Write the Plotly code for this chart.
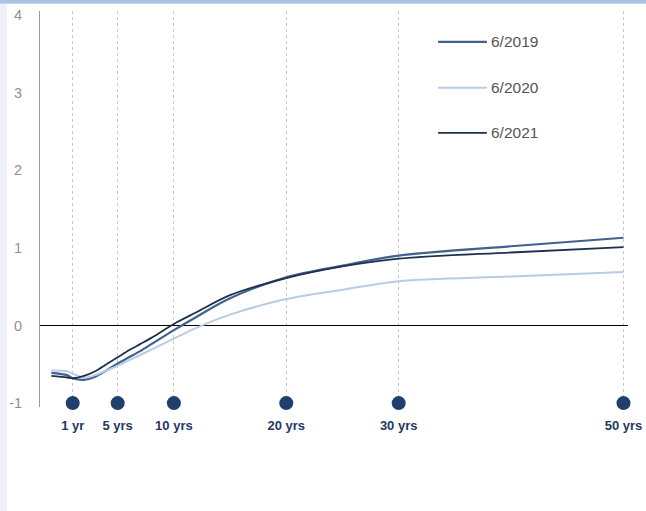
import plotly.graph_objects as go

# Maturity positions (years) along the curve
maturity = [-0.9, 0.5, 1, 2, 3, 4, 5, 6, 7, 8, 9, 10, 12, 15, 20, 25, 30, 40, 50]

# Yields (%) per curve date
y_2019 = [-0.61, -0.64, -0.68, -0.70, -0.66, -0.58, -0.49, -0.41, -0.33, -0.24, -0.15, -0.06,
          0.11, 0.35, 0.62, 0.77, 0.90, 1.02, 1.13]
y_2020 = [-0.58, -0.59, -0.62, -0.67, -0.64, -0.58, -0.52, -0.45, -0.38, -0.31, -0.24, -0.17,
          -0.03, 0.14, 0.34, 0.46, 0.57, 0.63, 0.69]
y_2021 = [-0.65, -0.67, -0.68, -0.65, -0.59, -0.50, -0.41, -0.32, -0.24, -0.16, -0.07, 0.02,
          0.17, 0.39, 0.61, 0.76, 0.86, 0.94, 1.01]

series_names = ["6/2019", "6/2020", "6/2021"]
series_colors = ["#42618f", "#b9cce3", "#1f304d"]
series_widths = [2.2, 2, 1.8]

# Highlighted maturities on the x axis
key_maturities = [1, 5, 10, 20, 30, 50]
key_labels = ["1 yr", "5 yrs", "10 yrs", "20 yrs", "30 yrs", "50 yrs"]

y_ticks = [-1, 0, 1, 2, 3, 4]
y_ticktext = ["-1", "0", "1", "2", "3", "4"]

fig = go.Figure()

for name, ys, col, w in zip(series_names, [y_2019, y_2020, y_2021], series_colors, series_widths):
    fig.add_trace(go.Scatter(x=maturity, y=ys, mode="lines", name=name,
                             line=dict(color=col, width=w, shape="spline", smoothing=0.9),
                             showlegend=False, hoverinfo="skip"))

# Dots marking key maturities along the bottom
fig.add_trace(go.Scatter(x=key_maturities, y=[-1] * len(key_maturities), mode="markers",
                         marker=dict(color="#1f3f6e", size=14, line=dict(width=0)),
                         cliponaxis=False, showlegend=False, hoverinfo="skip"))

# Custom legend: short line samples with labels
legend_rows = [0.922, 0.806, 0.692]
shapes = [
    # top accent band
    dict(type="rect", xref="paper", yref="paper", x0=-0.07, x1=1.04, y0=1.018, y1=1.05,
         fillcolor="#a9c4e2", line=dict(width=0), layer="below"),
    # faint left border band
    dict(type="rect", xref="paper", yref="paper", x0=-0.07, x1=-0.056, y0=-0.27, y1=1.018,
         fillcolor="#eef2f8", line=dict(width=0), layer="below"),
]
annotations = []
for name, col, w, yy in zip(series_names, series_colors, series_widths, legend_rows):
    shapes.append(dict(type="line", xref="paper", yref="paper", x0=0.677, x1=0.760, y0=yy, y1=yy,
                       line=dict(color=col, width=w)))
    annotations.append(dict(text=name, xref="paper", yref="paper", x=0.763, y=yy,
                            xanchor="left", yanchor="middle", showarrow=False,
                            font=dict(family="Liberation Sans, Arial, sans-serif", size=15.5,
                                      color="#555555")))

fig.update_layout(
    width=646, height=511,
    margin=dict(l=40, r=18, t=11, b=104),
    paper_bgcolor="white", plot_bgcolor="white",
    shapes=shapes, annotations=annotations,
    showlegend=False,
    xaxis=dict(
        range=[-1.91, 50.4],
        tickvals=key_maturities,
        ticktext=["<b>%s</b>" % t for t in key_labels],
        tickfont=dict(family="Liberation Sans Narrow, Arial Narrow, Liberation Sans, Arial",
                      size=13, color="#1f3864"),
        showgrid=True, gridcolor="#c8c8c8", griddash="3px,3px", gridwidth=1,
        zeroline=False, showline=False, ticks="", ticklabelstandoff=9,
        automargin=False,
    ),
    yaxis=dict(
        range=[-1.05, 4.05],
        tickvals=y_ticks, ticktext=y_ticktext,
        tickfont=dict(family="Liberation Sans, Arial, sans-serif", size=14.5, color="#909090"),
        showgrid=False,
        zeroline=True, zerolinecolor="#000000", zerolinewidth=1,
        showline=True, linecolor="#9a9a9a", linewidth=1,
        ticks="", ticklabelstandoff=14,
        automargin=False,
    ),
)

fig.write_html("out.html")
